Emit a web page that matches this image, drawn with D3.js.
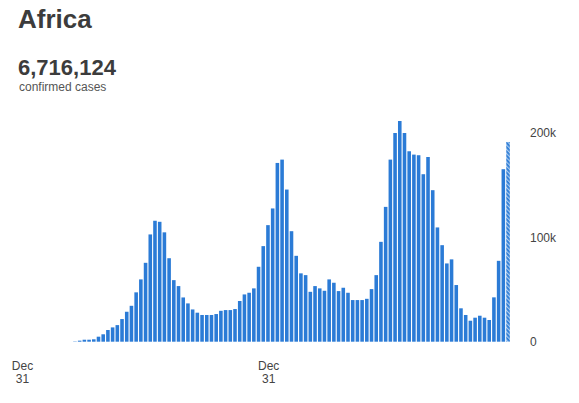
<!DOCTYPE html>
<html>
<head>
<meta charset="utf-8">
<script src="https://cdn.jsdelivr.net/npm/d3@7"></script>
<style>
  html, body { margin: 0; padding: 0; background: #fff; }
  svg { display: block; font-family: "Liberation Sans", Arial, sans-serif; }
</style>
</head>
<body>
<svg id="chart" width="579" height="403"></svg>
<script>
// ---- data ----
const regionName = "Africa";
const totalCases = 6716124;
const subtitle = "confirmed cases";
// weekly new confirmed cases (thousands), first bar = week of 2020-03-12
const firstWeek = "2020-03-12";
const weeklyCasesK = [
  0.3, 1.0, 1.9, 1.9, 2.3, 4.8, 7.1, 11.2, 13.7, 15.9,
  21.7, 28.7, 34.4, 47.3, 59.7, 75.6, 102.8, 115.9, 114.9, 104.8,
  80.0, 59.0, 53.3, 42.4, 36.7, 30.9, 27.8, 25.6, 25.6, 25.6,
  26.5, 29.6, 30.3, 30.3, 31.3, 39.0, 45.3, 46.9, 51.1, 71.8,
  91.6, 111.7, 127.7, 171.3, 174.5, 145.8, 105.9, 82.3, 65.5, 63.8,
  47.8, 53.3, 51.1, 48.8, 59.7, 56.5, 48.5, 51.7, 46.9, 39.9,
  39.9, 39.9, 41.1, 50.4, 63.8, 95.7, 129.2, 174.5, 200.0, 211.5,
  200.0, 182.5, 179.3, 178.7, 160.5, 177.0, 145.2, 109.5, 92.5, 75.0,
  78.9, 54.3, 32.0, 25.6, 20.1, 23.0, 24.9, 23.0, 20.8, 42.5,
  77.5, 165.3, 191.4
];
const yTickValues = [0, 100, 200];
const yTickLabels = ["0", "100k", "200k"];
const xTickDates = ["2019-12-31", "2020-12-31"];
const xTickLines = [["Dec", "31"], ["Dec", "31"]];

// ---- layout ----
const svg = d3.select("#chart");
const parse = d3.utcParse("%Y-%m-%d");
const DAY = 86400000;
const start = parse(firstWeek);
const dates = weeklyCasesK.map((d, i) => new Date(start.getTime() + i * 7 * DAY));
const n = weeklyCasesK.length;

const x = d3.scaleUtc()
  .domain([new Date(start.getTime() - 3.5 * DAY), new Date(dates[n - 1].getTime() + 3.5 * DAY)])
  .range([72.6, 510.4]);
const y = d3.scaleLinear().domain([0, 200]).range([341.7, 133]);

const pxPerWeek = x(new Date(start.getTime() + 7 * DAY)) - x(start);
const barW = pxPerWeek * 0.76;
const blue = "#2b7bd6";

// hatch pattern for the last (incomplete) week
const defs = svg.append("defs");
const pat = defs.append("pattern")
  .attr("id", "hatch")
  .attr("patternUnits", "userSpaceOnUse")
  .attr("width", 3).attr("height", 3)
  .attr("patternTransform", "rotate(45)");
pat.append("rect").attr("width", 3).attr("height", 3).attr("fill", "#a9cbef");
pat.append("rect").attr("width", 3).attr("height", 1.8).attr("fill", blue);

// title block
svg.append("text").attr("x", 18).attr("y", 28)
  .attr("font-size", 26).attr("font-weight", "bold").attr("fill", "#3c3c3c")
  .text(regionName);
svg.append("text").attr("x", 18).attr("y", 75)
  .attr("font-size", 22).attr("font-weight", "bold").attr("fill", "#3c3c3c")
  .text(d3.format(",")(totalCases));
svg.append("text").attr("x", 19).attr("y", 91)
  .attr("font-size", 12).attr("fill", "#555")
  .text(subtitle);

// bars
svg.append("g").selectAll("rect")
  .data(weeklyCasesK)
  .join("rect")
  .attr("x", (d, i) => x(dates[i]) - barW / 2)
  .attr("y", d => y(d))
  .attr("width", barW)
  .attr("height", d => y(0) - y(d))
  .attr("fill", (d, i) => i === n - 1 ? "url(#hatch)" : blue);

// y axis (right side, labels only)
const yAxis = d3.axisRight(y)
  .tickValues(yTickValues)
  .tickFormat((d, i) => yTickLabels[i])
  .tickSize(0).tickPadding(0);
const gy = svg.append("g").attr("transform", "translate(530,0)").call(yAxis);
gy.select(".domain").remove();
gy.selectAll("text").attr("font-size", 12).attr("fill", "#444")
  .attr("font-family", "\"Liberation Sans\", Arial, sans-serif");

// x axis labels
const gx = svg.append("g");
xTickDates.forEach((ds, i) => {
  const t = gx.append("text")
    .attr("x", x(parse(ds)) - 4)
    .attr("y", 370)
    .attr("text-anchor", "middle")
    .attr("font-size", 12).attr("fill", "#444");
  xTickLines[i].forEach((line, j) => {
    t.append("tspan").attr("x", x(parse(ds)) - 4).attr("dy", j === 0 ? 0 : 13).text(line);
  });
});
</script>
</body>
</html>
